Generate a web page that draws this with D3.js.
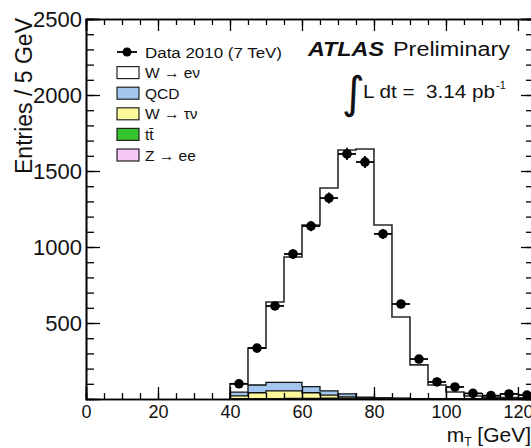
<!DOCTYPE html>
<html>
<head>
<meta charset="utf-8">
<script src="https://cdn.jsdelivr.net/npm/d3@7"></script>
<style>
	body { margin: 0; background: #fff; }
	text { font-family: "Liberation Sans", Arial, sans-serif; fill: #111; }
</style>
</head>
<body>
<svg id="chart" width="531" height="448"></svg>
<script>

// bin lower edges (GeV), all bins 5 GeV wide
const binLow = [40, 45, 50, 55, 60, 65, 70, 75, 80, 85, 90, 95, 100, 105, 110, 115, 120];

// MC samples, entries per bin
const zee    = [1, 1, 1, 1, 1, 1, 1, 1, 1, 1, 0.5, 0.5, 0, 0, 0, 0, 0];
const ttbar  = [1, 2, 2, 3, 3, 4, 5, 4, 3, 2, 1, 1, 0.5, 0.5, 0, 0, 0];
const wtaunu = [18, 38, 50, 49, 37, 21, 8, 2, 1, 0.5, 0, 0, 0, 0, 0, 0, 0];
const qcd    = [25, 51, 57, 57, 40, 27, 20, 5, 3, 2, 1, 0.5, 0.5, 0, 0, 0, 0];
const wenu   = [55, 243, 528, 824, 1064, 1335, 1604, 1633, 1137, 534, 222, 90, 45, 19, 12, 10, 8];

// data 2010, entries per bin (at bin centres)
const dataCentre = [42.5, 47.5, 52.5, 57.5, 62.5, 67.5, 72.5, 77.5, 82.5, 87.5, 92.5, 97.5, 102.5, 107.5, 112.5, 117.5, 122.5];
const dataCount  = [100, 335, 612, 954, 1138, 1322, 1612, 1559, 1086, 625, 263, 112, 79, 37, 22, 33, 26];

const xTicks = [0, 20, 40, 60, 80, 100, 120];
const yTicks = [500, 1000, 1500, 2000, 2500];

const samples = [
	{ key: "zee",    label: "Z \u2192 ee",   color: "#f6c8f4", values: zee },
	{ key: "ttbar",  label: "tt\u0304",      color: "#33c42f", values: ttbar },
	{ key: "wtaunu", label: "W \u2192 \u03c4\u03bd", color: "#fbf99c", values: wtaunu },
	{ key: "qcd",    label: "QCD",           color: "#a3c6ef", values: qcd },
	{ key: "wenu",   label: "W \u2192 e\u03bd", color: "#ffffff", values: wenu }
];

const svg = d3.select("#chart");

// right edge of the frame falls just outside the picture, as in the original
const frameLeft = 86, frameRight = 532, frameTop = 19, frameBottom = 399;

const x = d3.scaleLinear().domain([0, 123.9]).range([frameLeft, frameRight]);
const y = d3.scaleLinear().domain([0, 2500]).range([frameBottom, frameTop]);

svg.append("defs").append("clipPath")
	.attr("id", "frame-clip")
	.append("rect")
	.attr("x", frameLeft).attr("y", frameTop)
	.attr("width", frameRight - frameLeft).attr("height", frameBottom - frameTop);

// stack the samples, first one at the bottom
const rows = binLow.map((lo, i) => {
	const r = { lo: lo };
	samples.forEach(s => { r[s.key] = s.values[i]; });
	return r;
});
const stacked = d3.stack().keys(samples.map(s => s.key))(rows);

const plot = svg.append("g").attr("clip-path", "url(#frame-clip)");

// ROOT style: draw cumulative histograms from the top layer down, each filled from zero
function stepPath(layer) {
	let p = d3.path();
	p.moveTo(x(binLow[0]), y(0));
	layer.forEach((d, i) => {
		p.lineTo(x(binLow[i]), y(d[1]));
		p.lineTo(x(binLow[i] + 5), y(d[1]));
	});
	p.lineTo(x(binLow[binLow.length - 1] + 5), y(0));
	return p.toString();
}

stacked.slice().reverse().forEach((layer, j) => {
	const s = samples[samples.length - 1 - j];
	plot.append("path")
		.attr("d", stepPath(layer))
		.attr("fill", s.color)
		.attr("stroke", s.key == "wenu" ? "#2a2a2a" : "#111")
		.attr("stroke-width", s.key == "wenu" ? 1.6 : 1.3);
});

// data points with error bars
const pts = plot.append("g").selectAll("g")
	.data(dataCentre.map((c, i) => ({ c: c, n: dataCount[i] })))
	.join("g");

pts.append("line")
	.attr("x1", d => x(d.c - 2.5)).attr("x2", d => x(d.c + 2.5))
	.attr("y1", d => y(d.n)).attr("y2", d => y(d.n))
	.attr("stroke", "#000").attr("stroke-width", 1.8);

pts.append("line")
	.attr("x1", d => x(d.c)).attr("x2", d => x(d.c))
	.attr("y1", d => y(d.n - Math.sqrt(d.n))).attr("y2", d => y(d.n + Math.sqrt(d.n)))
	.attr("stroke", "#000").attr("stroke-width", 1.8);

pts.append("circle")
	.attr("cx", d => x(d.c)).attr("cy", d => y(d.n))
	.attr("r", 4.8)
	.attr("fill", "#000");

// axes, ticks pointing inward on all four sides
function minorTicks(step, lo, hi) {
	return d3.range(lo, hi + 0.001, step);
}

const axes = svg.append("g").attr("class", "axes");

axes.append("g")
	.attr("transform", "translate(" + frameLeft + ",0)")
	.call(d3.axisLeft(y).tickValues(minorTicks(100, 100, 2500)).tickSize(-8).tickFormat(() => null));
axes.append("g")
	.attr("transform", "translate(" + frameLeft + ",0)")
	.call(d3.axisLeft(y).tickValues(yTicks).tickSize(-14).tickPadding(4).tickFormat(d3.format("d")))
	.selectAll("text").style("font-size", "22px");

axes.append("g")
	.attr("transform", "translate(" + frameRight + ",0)")
	.call(d3.axisRight(y).tickValues(minorTicks(100, 100, 2500)).tickSize(-6).tickFormat(() => null));
axes.append("g")
	.attr("transform", "translate(" + frameRight + ",0)")
	.call(d3.axisRight(y).tickValues(yTicks).tickSize(-11).tickFormat(() => null));

axes.append("g")
	.attr("transform", "translate(0," + frameBottom + ")")
	.call(d3.axisBottom(x).tickValues(minorTicks(5, 5, 120)).tickSize(-6).tickFormat(() => null));
axes.append("g")
	.attr("transform", "translate(0," + frameBottom + ")")
	.call(d3.axisBottom(x).tickValues(xTicks).tickSize(-12).tickPadding(6))
	.selectAll("text").style("font-size", "18px");

axes.append("g")
	.attr("transform", "translate(0," + frameTop + ")")
	.call(d3.axisTop(x).tickValues(minorTicks(5, 5, 120)).tickSize(-6).tickFormat(() => null));
axes.append("g")
	.attr("transform", "translate(0," + frameTop + ")")
	.call(d3.axisTop(x).tickValues(xTicks).tickSize(-12).tickFormat(() => null));

axes.selectAll(".domain").attr("stroke", "#000").attr("stroke-width", 1.6);
axes.selectAll(".tick line").attr("stroke", "#000").attr("stroke-width", 1.3);
axes.selectAll(".tick text").style("fill", "#111");

// axis titles
svg.append("text")
	.attr("transform", "translate(32,18) rotate(-90)")
	.attr("text-anchor", "end")
	.style("font-size", "23px")
	.text("Entries / 5 GeV");

const xt = svg.append("text")
	.attr("x", 531).attr("y", 442)
	.attr("text-anchor", "end")
	.style("font-size", "21px");
xt.append("tspan").text("m");
xt.append("tspan").attr("dy", 4).style("font-size", "12px").text("T");
xt.append("tspan").attr("dy", -4).text(" [GeV]");

// legend
const legend = svg.append("g").attr("class", "legend");
const rowY = i => 52 + i * 20.6;

legend.append("line")
	.attr("x1", 117).attr("x2", 137).attr("y1", rowY(0)).attr("y2", rowY(0))
	.attr("stroke", "#000").attr("stroke-width", 1.8);
legend.append("circle")
	.attr("cx", 127).attr("cy", rowY(0)).attr("r", 4.5).attr("fill", "#000");
legend.append("text")
	.attr("x", 145).attr("y", rowY(0)).attr("dy", "0.36em")
	.style("font-size", "15.5px")
	.attr("textLength", 137).attr("lengthAdjust", "spacingAndGlyphs")
	.text("Data 2010 (7 TeV)");

samples.slice().reverse().forEach((s, i) => {
	legend.append("rect")
		.attr("x", 117).attr("y", rowY(i + 1) - 6)
		.attr("width", 22).attr("height", 12)
		.attr("fill", s.color)
		.attr("stroke", "#222").attr("stroke-width", 1.2);
	legend.append("text")
		.attr("x", 145).attr("y", rowY(i + 1)).attr("dy", "0.36em")
		.style("font-size", "15.5px")
		.text(s.label);
});

// experiment label and luminosity
svg.append("text")
	.attr("x", 308).attr("y", 56)
	.style("font-size", "20px").style("font-weight", "bold").style("font-style", "italic")
	.attr("textLength", 76).attr("lengthAdjust", "spacingAndGlyphs")
	.text("ATLAS");
svg.append("text")
	.attr("x", 393).attr("y", 56)
	.style("font-size", "20px")
	.attr("textLength", 117).attr("lengthAdjust", "spacingAndGlyphs")
	.text("Preliminary");

svg.append("text")
	.attr("x", 342).attr("y", 108)
	.style("font-family", "'DejaVu Sans'")
	.style("font-size", "44px")
	.text("\u222b");

svg.append("text")
	.attr("x", 363).attr("y", 98)
	.style("font-size", "18px")
	.style("white-space", "pre")
	.attr("textLength", 132).attr("lengthAdjust", "spacingAndGlyphs")
	.text("L dt =  3.14 pb");
svg.append("text")
	.attr("x", 496).attr("y", 89)
	.style("font-size", "11px")
	.text("-1");

</script>
</body>
</html>
